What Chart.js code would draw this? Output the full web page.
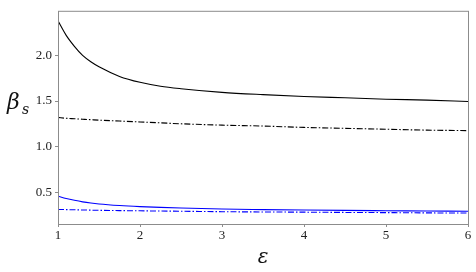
<!DOCTYPE html>
<html>
<head>
<meta charset="utf-8">
<script src="https://cdn.jsdelivr.net/npm/chart.js@4/dist/chart.umd.min.js"></script>
<style>
  html, body { margin: 0; padding: 0; background: #fff; }
  #wrap { width: 476px; height: 272px; }
</style>
</head>
<body>
<div id="wrap"><canvas id="chart"></canvas></div>
<script>
const epsilon = [1, 1.1, 1.2, 1.3, 1.4, 1.5, 1.75, 2, 2.25, 2.5, 3, 3.5, 4, 4.5, 5, 5.5, 6];

const blackSolid = [2.38, 2.22, 2.1, 2.0, 1.93, 1.875, 1.77, 1.705, 1.662, 1.635, 1.595, 1.57, 1.55, 1.535, 1.52, 1.51, 1.495];
const blackDashDot = [1.32, 1.31, 1.305, 1.3, 1.295, 1.29, 1.28, 1.27, 1.26, 1.25, 1.235, 1.225, 1.21, 1.2, 1.19, 1.18, 1.175];
const blueSolid = [0.455, 0.43, 0.41, 0.393, 0.38, 0.37, 0.353, 0.341, 0.332, 0.325, 0.314, 0.308, 0.303, 0.299, 0.296, 0.293, 0.29];
const blueDashDot = [0.31, 0.308, 0.306, 0.304, 0.302, 0.3, 0.297, 0.295, 0.292, 0.29, 0.285, 0.282, 0.28, 0.277, 0.275, 0.272, 0.27];

const yTicks = [0.5, 1.0, 1.5, 2.0];
const xTicks = [1, 2, 3, 4, 5, 6];

const axisGray = "#8c8c8c";
const tickFont = "'Liberation Serif', 'DejaVu Serif', serif";
const titleFont = "'DejaVu Serif', 'Liberation Serif', serif";

const toPoints = (values) => values.map((y, i) => ({ x: epsilon[i], y }));

const series = (values, color, dash) => ({
  data: toPoints(values),
  borderColor: color,
  borderWidth: 1.1,
  borderDash: dash,
  pointRadius: 0,
  fill: false,
  cubicInterpolationMode: "monotone",
});

const frame = {
  id: "frame",
  afterDraw(chart) {
    const { ctx, chartArea } = chart;
    ctx.save();
    ctx.strokeStyle = axisGray;
    ctx.lineWidth = 1;
    ctx.strokeRect(chartArea.left + 0.5, chartArea.top + 0.5,
      chartArea.right - chartArea.left, chartArea.bottom - chartArea.top);

    // y axis label: beta with subscript s
    ctx.fillStyle = "#111";
    ctx.textBaseline = "alphabetic";
    ctx.font = "italic 22px " + titleFont;
    ctx.fillText("β", 7, 109);
    ctx.font = "italic 14px " + titleFont;
    ctx.fillText("s", 22, 114);
    ctx.restore();
  },
};

new Chart(document.getElementById("chart"), {
  type: "line",
  data: {
    datasets: [
      series(blackSolid, "#000", []),
      series(blackDashDot, "#000", [6, 2, 1.5, 2]),
      series(blueSolid, "#0000ff", []),
      series(blueDashDot, "#0000ff", [6, 2, 1.5, 2]),
    ],
  },
  options: {
    responsive: true,
    maintainAspectRatio: false,
    animation: false,
    layout: { padding: { top: 4, right: 8, bottom: 0, left: 0 } },
    plugins: { legend: { display: false }, tooltip: { enabled: false } },
    scales: {
      x: {
        type: "linear",
        min: 1,
        max: 6,
        afterBuildTicks: (scale) => {
          scale.ticks = xTicks.map((value) => ({ value }));
        },
        afterFit: (scale) => {
          scale.height = 48;
        },
        border: { display: false },
        grid: { drawOnChartArea: false, tickLength: 3, color: axisGray },
        ticks: {
          color: "#222",
          padding: 1,
          font: { family: tickFont, size: 13 },
          callback: (v) => String(v),
        },
        title: {
          display: true,
          text: "ε",
          color: "#111",
          padding: { top: 0, bottom: 2 },
          font: { family: titleFont, size: 20, style: "italic" },
        },
      },
      y: {
        type: "linear",
        min: 0.15,
        max: 2.49,
        afterBuildTicks: (scale) => {
          scale.ticks = yTicks.map((value) => ({ value }));
        },
        afterFit: (scale) => {
          scale.width = 58;
        },
        border: { display: false },
        grid: { drawOnChartArea: false, tickLength: 3, color: axisGray },
        ticks: {
          color: "#222",
          padding: 3,
          font: { family: tickFont, size: 13 },
          callback: (v) => v.toFixed(1),
        },
      },
    },
  },
  plugins: [frame],
});
</script>
</body>
</html>
